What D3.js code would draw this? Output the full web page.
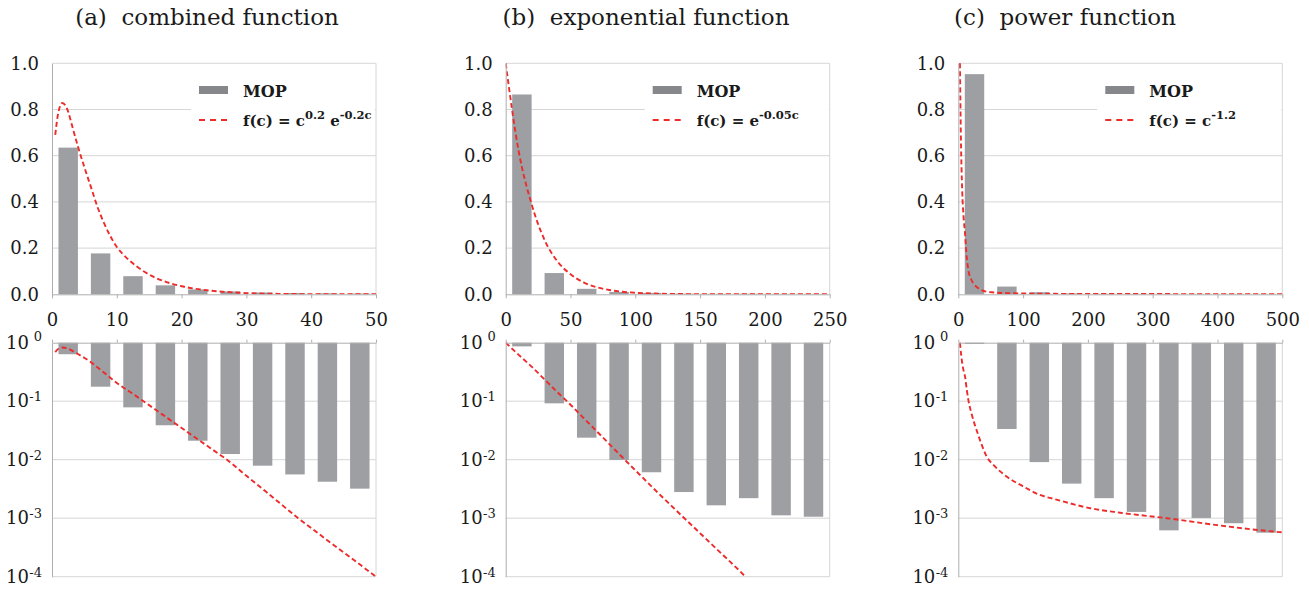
<!DOCTYPE html>
<html>
<head>
<meta charset="utf-8">
<script src="https://cdn.jsdelivr.net/npm/d3@7"></script>
<style>
  body { margin: 0; background: #fff; }
  text { font-family: "DejaVu Serif", serif; fill: #1a1a1a; }
</style>
</head>
<body>
<svg id="chart" width="1309" height="590"></svg>
<script>
// bin centres (categories) and MOP values, one set per panel
var catsA = [2.5, 7.5, 12.5, 17.5, 22.5, 27.5, 32.5, 37.5, 42.5, 47.5];
var mopA = [0.635, 0.177, 0.0785, 0.0388, 0.0211, 0.0125, 0.0079, 0.0056, 0.0042, 0.0032];
var catsB = [12.5, 37.5, 62.5, 87.5, 112.5, 137.5, 162.5, 187.5, 212.5, 237.5];
var mopB = [0.865, 0.092, 0.0238, 0.0099, 0.0061, 0.0028, 0.00166, 0.0022, 0.00112, 0.00106];
var catsC = [25, 75, 125, 175, 225, 275, 325, 375, 425, 475];
var mopC = [0.953, 0.0335, 0.0091, 0.0039, 0.0022, 0.00128, 0.00062, 0.00101, 0.00082, 0.000565];

// fitted curves
var fitAc = [0.5, 1, 1.6, 2.5, 3, 4, 5, 6, 7, 8, 9, 10, 11, 12, 13, 14, 16, 18, 20, 22, 25, 27, 30, 33, 35, 38, 40, 43, 45, 48, 50];
var fitAv = [0.69, 0.79, 0.828, 0.79, 0.74, 0.64, 0.55, 0.465, 0.38, 0.31, 0.252, 0.205, 0.172, 0.145, 0.122, 0.102, 0.0713, 0.0499, 0.0349, 0.0244, 0.0143, 0.0100, 0.0053, 0.00285, 0.00187, 0.0010, 0.00068, 0.00038, 0.00026, 0.000147, 0.0001];
var fitBc = [0, 10, 20, 30, 40, 50, 60, 70, 80, 90, 100, 120, 140, 160, 185, 200, 225, 250];
var fitBv = [1, 0.62, 0.39, 0.235, 0.142, 0.087, 0.052, 0.031, 0.0185, 0.011, 0.0066, 0.0024, 0.0009, 0.00034, 0.0001, 0.000045, 0.000013, 0.0000037];
var fitCc = [2.5, 4, 6, 8, 10.5, 13, 15.5, 20, 25, 30, 35, 44, 55, 75, 100, 126, 150, 204, 250, 322, 400, 450, 502];
var fitCv = [1.0, 0.68, 0.45, 0.34, 0.26, 0.16, 0.105, 0.064, 0.041, 0.028, 0.0195, 0.0112, 0.008, 0.0051, 0.0035, 0.0025, 0.0021, 0.00148, 0.00124, 0.0010, 0.00076, 0.00065, 0.00057];

// tick labels
var xTicksA = [0, 10, 20, 30, 40, 50];
var xTicksB = [0, 50, 100, 150, 200, 250];
var xTicksC = [0, 100, 200, 300, 400, 500];
var linTicks = [0, 0.2, 0.4, 0.6, 0.8, 1.0];
var logTicks = [1, 0.1, 0.01, 0.001, 0.0001];
var logExp = ["0", "-1", "-2", "-3", "-4"];

var titles = ["(a)  combined function", "(b)  exponential function", "(c)  power function"];
var legendParts = [
  [["f(c) = c", false], ["0.2", true], [" e", false], ["-0.2c", true]],
  [["f(c) = e", false], ["-0.05c", true]],
  [["f(c) = c", false], ["-1.2", true]]
];

var panels = [
  {cats: catsA, mop: mopA, fc: fitAc, fv: fitAv, xMax: 50, binW: 5, ticks: xTicksA, left: 52, titleX: 207},
  {cats: catsB, mop: mopB, fc: fitBc, fv: fitBv, xMax: 250, binW: 25, ticks: xTicksB, left: 505.7, titleX: 646},
  {cats: catsC, mop: mopC, fc: fitCc, fv: fitCv, xMax: 500, binW: 50, ticks: xTicksC, left: 958.3, titleX: 1065}
];

var plotW = 324;
var topY0 = 63.3, topY1 = 294.3;
var logY0 = 342.7, logY1 = 576.7;
var gridCol = "#d6d6d6", axisCol = "#aeaeae", barCol = "#9d9fa3", swatchCol = "#85878b", red = "#ee2b2b";

var svg = d3.select("#chart");

var yLin = d3.scaleLinear().domain([0, 1]).range([topY1, topY0]);
var yLog = d3.scaleLog().domain([1e-4, 1]).range([logY1, logY0]);

panels.forEach(function(p, i) {
  var x = d3.scaleLinear().domain([0, p.xMax]).range([p.left, p.left + plotW]);
  var right = p.left + plotW;
  var bw = x(p.binW * 0.6) - x(0);
  var pts = p.fc.map(function(c, k) { return {c: c, v: p.fv[k]}; });
  var bars = p.cats.map(function(c, k) { return {c: c, v: p.mop[k]}; });

  svg.append("text")
    .attr("x", p.titleX).attr("y", 25)
    .attr("text-anchor", "middle")
    .style("font-size", "23px")
    .style("white-space", "pre")
    .text(titles[i]);

  // ---------- linear panel ----------
  var gT = svg.append("g");
  gT.selectAll(".grid").data(linTicks.slice(1)).enter().append("line")
    .attr("x1", p.left).attr("x2", right)
    .attr("y1", d => yLin(d)).attr("y2", d => yLin(d))
    .attr("stroke", gridCol);
  gT.append("line").attr("x1", right).attr("x2", right)
    .attr("y1", topY0).attr("y2", topY1).attr("stroke", gridCol);

  gT.selectAll(".bar").data(bars).enter().append("rect")
    .attr("x", d => x(d.c) - bw / 2)
    .attr("width", bw)
    .attr("y", d => yLin(d.v))
    .attr("height", d => yLin(0) - yLin(d.v))
    .attr("fill", barCol);

  svg.append("clipPath").attr("id", "clipT" + i).append("rect")
    .attr("x", p.left).attr("y", topY0 - 1).attr("width", plotW).attr("height", topY1 - topY0 + 1);
  gT.append("path")
    .datum(pts)
    .attr("clip-path", "url(#clipT" + i + ")")
    .attr("d", d3.line().x(d => x(d.c)).y(d => yLin(d.v)).curve(d3.curveMonotoneX))
    .attr("fill", "none").attr("stroke", red)
    .attr("stroke-width", 1.9).attr("stroke-dasharray", "5,3");

  var xAx = gT.append("g")
    .attr("transform", "translate(0," + topY1 + ")")
    .call(d3.axisBottom(x).tickValues(p.ticks).tickSize(4).tickSizeOuter(0).tickPadding(15));
  xAx.select(".domain").attr("stroke", axisCol);
  xAx.selectAll(".tick line").attr("stroke", axisCol);
  xAx.selectAll("text").style("font-size", "18px").attr("fill", "#1a1a1a");

  var yAx = gT.append("g")
    .attr("transform", "translate(" + p.left + ",0)")
    .call(d3.axisLeft(yLin).tickValues(linTicks).tickSize(0).tickSizeOuter(0).tickPadding(13).tickFormat(d3.format(".1f")));
  yAx.select(".domain").attr("stroke", axisCol);
  yAx.selectAll("text").style("font-size", "18px").attr("fill", "#1a1a1a");

  // legend
  var lg = gT.append("g");
  lg.append("rect").attr("x", p.left + 139).attr("y", topY0 + 10)
    .attr("width", plotW - 140).attr("height", 62).attr("fill", "#fff");
  lg.append("rect").attr("x", p.left + 147).attr("y", topY0 + 22.7)
    .attr("width", 29).attr("height", 8).attr("fill", swatchCol);
  lg.append("text").attr("x", p.left + 191).attr("y", topY0 + 34)
    .style("font-size", "16px").style("font-weight", "bold").text("MOP");
  lg.append("line").attr("x1", p.left + 147).attr("x2", p.left + 176)
    .attr("y1", topY0 + 56.7).attr("y2", topY0 + 56.7)
    .attr("stroke", red).attr("stroke-width", 2).attr("stroke-dasharray", "6,5");
  var ft = lg.append("text").attr("x", p.left + 191).attr("y", topY0 + 62.7)
    .style("font-size", "15px").style("font-weight", "bold").style("white-space", "pre");
  legendParts[i].forEach(function(part, k) {
    var prevSup = k > 0 && legendParts[i][k - 1][1];
    var dy = part[1] ? -7 : (prevSup ? 7 : 0);
    ft.append("tspan").attr("dy", dy)
      .style("font-size", part[1] ? "11.5px" : "15px")
      .text(part[0]);
  });

  // ---------- log panel ----------
  var gL = svg.append("g");
  gL.selectAll(".grid").data(logTicks.slice(1)).enter().append("line")
    .attr("x1", p.left).attr("x2", right)
    .attr("y1", d => yLog(d)).attr("y2", d => yLog(d))
    .attr("stroke", gridCol);
  gL.append("line").attr("x1", right).attr("x2", right)
    .attr("y1", logY0).attr("y2", logY1).attr("stroke", gridCol);

  gL.selectAll(".bar").data(bars).enter().append("rect")
    .attr("x", d => x(d.c) - bw / 2)
    .attr("width", bw)
    .attr("y", yLog(1))
    .attr("height", d => yLog(d.v) - yLog(1))
    .attr("fill", barCol);

  svg.append("clipPath").attr("id", "clipL" + i).append("rect")
    .attr("x", p.left).attr("y", logY0 - 1).attr("width", plotW).attr("height", logY1 - logY0 + 1);
  gL.append("path")
    .datum(pts)
    .attr("clip-path", "url(#clipL" + i + ")")
    .attr("d", d3.line().x(d => x(d.c)).y(d => yLog(d.v)).curve(d3.curveMonotoneX))
    .attr("fill", "none").attr("stroke", red)
    .attr("stroke-width", 1.9).attr("stroke-dasharray", "5,3");

  var xTop = gL.append("g")
    .attr("transform", "translate(0," + logY0 + ")")
    .call(d3.axisTop(x).tickValues(p.ticks).tickSize(3).tickSizeOuter(0).tickFormat(""));
  xTop.select(".domain").attr("stroke", axisCol);
  xTop.selectAll(".tick line").attr("stroke", axisCol);

  var yLAx = gL.append("g")
    .attr("transform", "translate(" + p.left + ",0)")
    .call(d3.axisLeft(yLog).tickValues(logTicks).tickSize(0).tickSizeOuter(0).tickFormat(""));
  yLAx.select(".domain").attr("stroke", axisCol);

  logTicks.forEach(function(t, k) {
    gL.append("text").attr("x", p.left - 23).attr("y", yLog(t) + 6)
      .attr("text-anchor", "end").style("font-size", "18px").text("10");
    gL.append("text").attr("x", p.left - 10).attr("y", yLog(t) + (k === 0 ? -2 : 0))
      .attr("text-anchor", "end").style("font-size", "13px").text(logExp[k]);
  });
});
</script>
</body>
</html>
